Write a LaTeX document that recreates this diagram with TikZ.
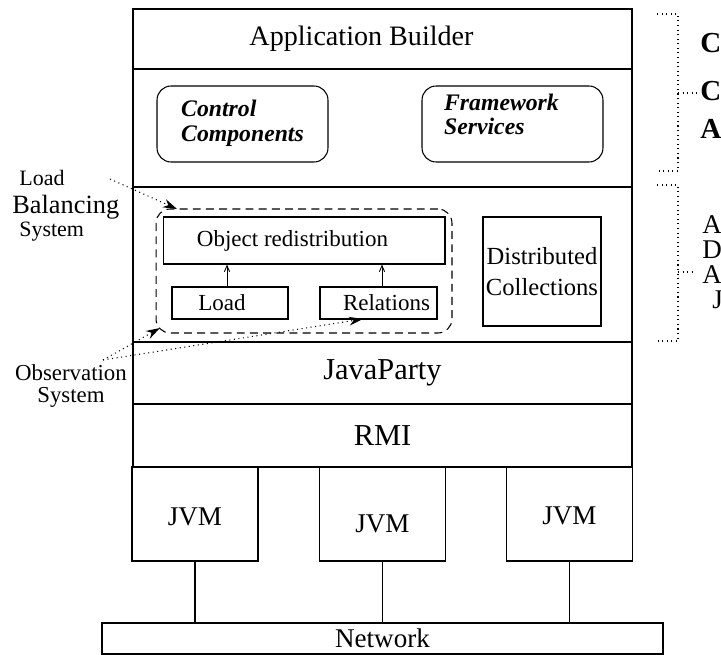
\documentclass[tikz,border=0pt]{standalone}
\usepackage{fontspec}
\setmainfont{Liberation Serif}
\usetikzlibrary{arrows.meta,positioning}

\tikzset{
  layer/.style={draw, line width=0.7pt, minimum width=9.98cm, inner sep=0pt,
    font=\fontsize{15.4}{18}\selectfont},
  jvmbox/.style={draw, line width=0.7pt, minimum width=2.52cm, minimum height=1.88cm,
    inner sep=0pt, font=\fontsize{15.4}{18}\selectfont},
  subbox/.style={draw, line width=0.6pt, inner sep=0pt,
    font=\fontsize{13.1}{18}\selectfont},
  service/.style={draw, rounded corners=8pt, line width=0.6pt, minimum width=3.42cm,
    minimum height=1.52cm, inner sep=0pt,
    font=\fontsize{13.5}{14}\selectfont\bfseries\itshape},
  obsarrow/.style={dotted, line width=0.6pt, -{Stealth[length=8pt,width=5pt]}},
  uparrow/.style={line width=0.5pt, -{Straight Barb[length=3.5pt,width=3pt]}},
  bracket/.style={dotted, line width=0.6pt},
  sidetext/.style={font=\fontsize{12.5}{13}\selectfont, inner sep=0pt},
  edgeletter/.style={font=\fontsize{15.4}{16}\selectfont, anchor=west, inner sep=0pt},
}

\begin{document}
\begin{tikzpicture}[x=0.02cm, y=-0.02cm]
\useasboundingbox (0,0) rectangle (721,655);

% Layers
\node[layer, minimum height=1.2cm, font=\fontsize{16}{18}\selectfont] (app) at (382.5,39)
  {Application Builder\rule{0.84cm}{0pt}};
\node[layer, minimum height=2.36cm] (ctrl) at (382.5,128) {};
\node[layer, minimum height=3.1cm] (lbs) at (382.5,264.5) {};
\node[layer, minimum height=1.24cm, font=\fontsize{17.3}{18}\selectfont] (jp) at (382.5,373) {JavaParty};
\node[layer, minimum height=1.26cm, font=\fontsize{17.3}{18}\selectfont] (rmi) at (382.5,435.5) {RMI};

% Control and framework
\node[service] (ctl) at (242.5,124) {\begin{tabular}{@{}l@{}}Control\\Components\end{tabular}};
\node[service, minimum width=3.62cm] (fw) at (512.5,124)
  {\raisebox{0pt}[0pt][0pt]{\begin{tabular}{@{}l@{}}Framework\\Services\end{tabular}}\rule{0.44cm}{0pt}};

% Load balancing system
\node[draw, dash pattern=on 4.5pt off 3pt, line width=0.6pt, rounded corners=8pt,
  minimum width=5.92cm, minimum height=2.48cm] (lbsys) at (304,271) {};
\node[subbox, minimum width=5.64cm, minimum height=0.94cm] (obj) at (304,240.5)
  {Object redistribution\rule{0.46cm}{0pt}};
\node[subbox, minimum width=2.32cm, minimum height=0.64cm] (load) at (230,303)
  {Load\rule{0.32cm}{0pt}};
\node[subbox, minimum width=2.34cm, minimum height=0.64cm] (rel) at (378.5,303)
  {\rule{0.32cm}{0pt}Relations};
\node[subbox, minimum width=2.36cm, minimum height=2.18cm, align=center,
  font=\fontsize{14}{18}\selectfont] (dist) at (542,271.5)
  {Distributed\\Collections};

\draw[uparrow] (load.north -| 227,0) -- (obj.south -| 227,0);
\draw[uparrow] (rel.north -| 382,0) -- (obj.south -| 382,0);

% JVMs
\foreach \i/\x/\s in {1/195/-0.24, 2/382.5/-0.38, 3/569.5/-0.22} {
  \node[jvmbox] (jvm\i) at (\x,514) {\raisebox{\s cm}[0pt][0pt]{JVM}};
}
\node[layer, minimum width=11.22cm, minimum height=0.62cm] (net) at (382.5,638.5) {Network};
\foreach \i in {1,2,3} {
  \draw[line width=0.6pt] (jvm\i.south) -- (jvm\i.south |- net.north);
}

% Left labels
\node[sidetext, align=left, anchor=west] (lb) at (12,206)
  {\hspace{4pt}Load\\[3pt]{\fontsize{15}{15}\selectfont Balancing}\\\hspace{4pt}System};
\node[sidetext, align=center, font=\fontsize{13}{13}\selectfont] (obs) at (71,386) {Observation\\System};

\coordinate (lbtail) at (110,179);
\coordinate (lbtip) at (177,209);
\coordinate (obstail) at (103,360);
\coordinate (loadtip) at (160,328);
\coordinate (reltip) at (363,319);
\draw[obsarrow] (lbtail) -- (lbtip);
\draw[obsarrow] (obstail) -- (loadtip);
\draw[obsarrow] (obstail) -- (reltip);

% Right brackets
\draw[bracket] (657,14) -- (678,14) -- (678,171) -- (657,171);
\draw[bracket] (678,93) -- (697,93);
\draw[bracket] (657,185) -- (678,185) -- (678,341) -- (657,341);
\draw[bracket] (678,272) -- (695,272);

% Right letters
\node[edgeletter, font=\fontsize{16.5}{18}\selectfont\bfseries] (c1) at (700,43) {C};
\node[edgeletter, font=\fontsize{16.5}{18}\selectfont\bfseries] (c2) at (700,91) {C};
\node[edgeletter, font=\fontsize{16.5}{18}\selectfont\bfseries] (a1) at (700,129) {A};
\node[edgeletter] (a2) at (702,225) {A};
\node[edgeletter] (d1) at (702,250) {D};
\node[edgeletter] (a3) at (702,275) {A};
\node[edgeletter] (j1) at (712,300) {J};
\end{tikzpicture}
\end{document}
